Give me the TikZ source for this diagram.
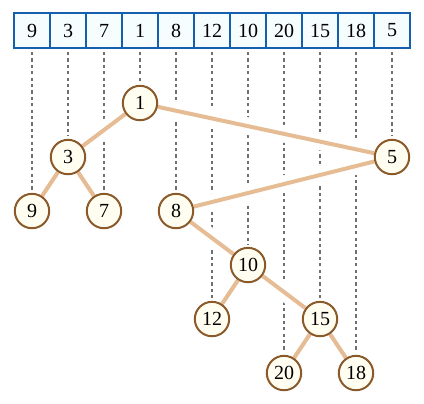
\documentclass[tikz,border=0pt]{standalone}
\usepackage{fontspec}
\setmainfont{Liberation Serif}
\usepackage{xcolor}
\definecolor{cell-blue}{HTML}{1560AE}
\definecolor{cell-fill}{HTML}{F6FDFF}
\definecolor{vert-brown}{HTML}{8B5A2B}
\definecolor{vert-fill}{HTML}{FFFEF0}
\definecolor{link-tan}{HTML}{E6BC94}
\definecolor{guide-gray}{HTML}{6F6F6F}
\usepackage{tikz}
\usetikzlibrary{chains}
\usetikzlibrary{positioning}
\usetikzlibrary{backgrounds}
\tikzset{cell/.style = {draw=cell-blue, line width=1.9pt, fill=cell-fill, on chain, minimum width=27pt, minimum height=26.25pt, inner sep=0pt, outer sep=0pt, font=\fontsize{15}{17}\selectfont}}
\tikzset{vert/.style = {circle, draw=vert-brown, line width=1.5pt, fill=vert-fill, minimum size=25.8pt, inner sep=0pt, on grid, font=\fontsize{15}{17}\selectfont}}
\tikzset{guide/.style = {draw=guide-gray, line width=1.7pt, dash pattern=on 2.4pt off 2.4pt}}
\tikzset{gap/.style = {draw=white, line width=13pt}}
\tikzset{link/.style = {draw=link-tan, line width=3pt}}

\begin{document}
\begin{tikzpicture}[auto,
  start chain = going right,
  node distance = 0pt,
]
\useasboundingbox (0,0) rectangle (318pt,-302.25pt);

\node[cell] (c1) at (24pt,-22.875pt) {9};
\node[cell] (c2) {3};
\node[cell] (c3) {7};
\node[cell] (c4) {1};
\node[cell] (c5) {8};
\node[cell] (c6) {12};
\node[cell] (c7) {10};
\node[cell] (c8) {20};
\node[cell] (c9) {15};
\node[cell] (c10) {18};
\node[cell] (c11) {5};

% each vertex sits under its own cell, one level = 40.5pt
\node[vert, below=54.4pt of c4] (t1) {1};
\node[vert, below=94.9pt of c2] (t3) {3};
\node[vert, below=94.9pt of c11] (t5) {5};
\node[vert, below=135.4pt of c1] (t9) {9};
\node[vert, below=135.4pt of c3] (t7) {7};
\node[vert, below=135.4pt of c5] (t8) {8};
\node[vert, below=175.9pt of c7] (t10) {10};
\node[vert, below=216.4pt of c6] (t12) {12};
\node[vert, below=216.4pt of c9] (t15) {15};
\node[vert, below=256.9pt of c8] (t20) {20};
\node[vert, below=256.9pt of c10] (t18) {18};

\begin{scope}[on background layer]
\draw[guide]  ([yshift=-3pt]c1.south) -- ([yshift=2pt]t9.north);
\draw[guide]  ([yshift=-3pt]c2.south) -- ([yshift=2pt]t3.north);
\draw[guide]  ([yshift=-3pt]c3.south) -- ([yshift=2pt]t7.north);
\draw[guide]  ([yshift=-3pt]c4.south) -- ([yshift=2pt]t1.north);
\draw[guide]  ([yshift=-3pt]c5.south) -- ([yshift=2pt]t8.north);
\draw[guide]  ([yshift=-3pt]c6.south) -- ([yshift=2pt]t12.north);
\draw[guide]  ([yshift=-3pt]c7.south) -- ([yshift=2pt]t10.north);
\draw[guide]  ([yshift=-3pt]c8.south) -- ([yshift=2pt]t20.north);
\draw[guide]  ([yshift=-3pt]c9.south) -- ([yshift=2pt]t15.north);
\draw[guide]  ([yshift=-3pt]c10.south) -- ([yshift=2pt]t18.north);
\draw[guide]  ([yshift=-3pt]c11.south) -- ([yshift=2pt]t5.north);

% white band first, so the guides break where an edge crosses
\draw[gap]  (t1) -- (t3)  (t1) -- (t5)  (t3) -- (t9)  (t3) -- (t7)  (t5) -- (t8)
  (t8) -- (t10)  (t10) -- (t12)  (t10) -- (t15)  (t15) -- (t20)  (t15) -- (t18);
\draw[link]  (t1) -- (t3)  (t1) -- (t5)  (t3) -- (t9)  (t3) -- (t7)  (t5) -- (t8)
  (t8) -- (t10)  (t10) -- (t12)  (t10) -- (t15)  (t15) -- (t20)  (t15) -- (t18);
\end{scope}

\end{tikzpicture}
\end{document}
